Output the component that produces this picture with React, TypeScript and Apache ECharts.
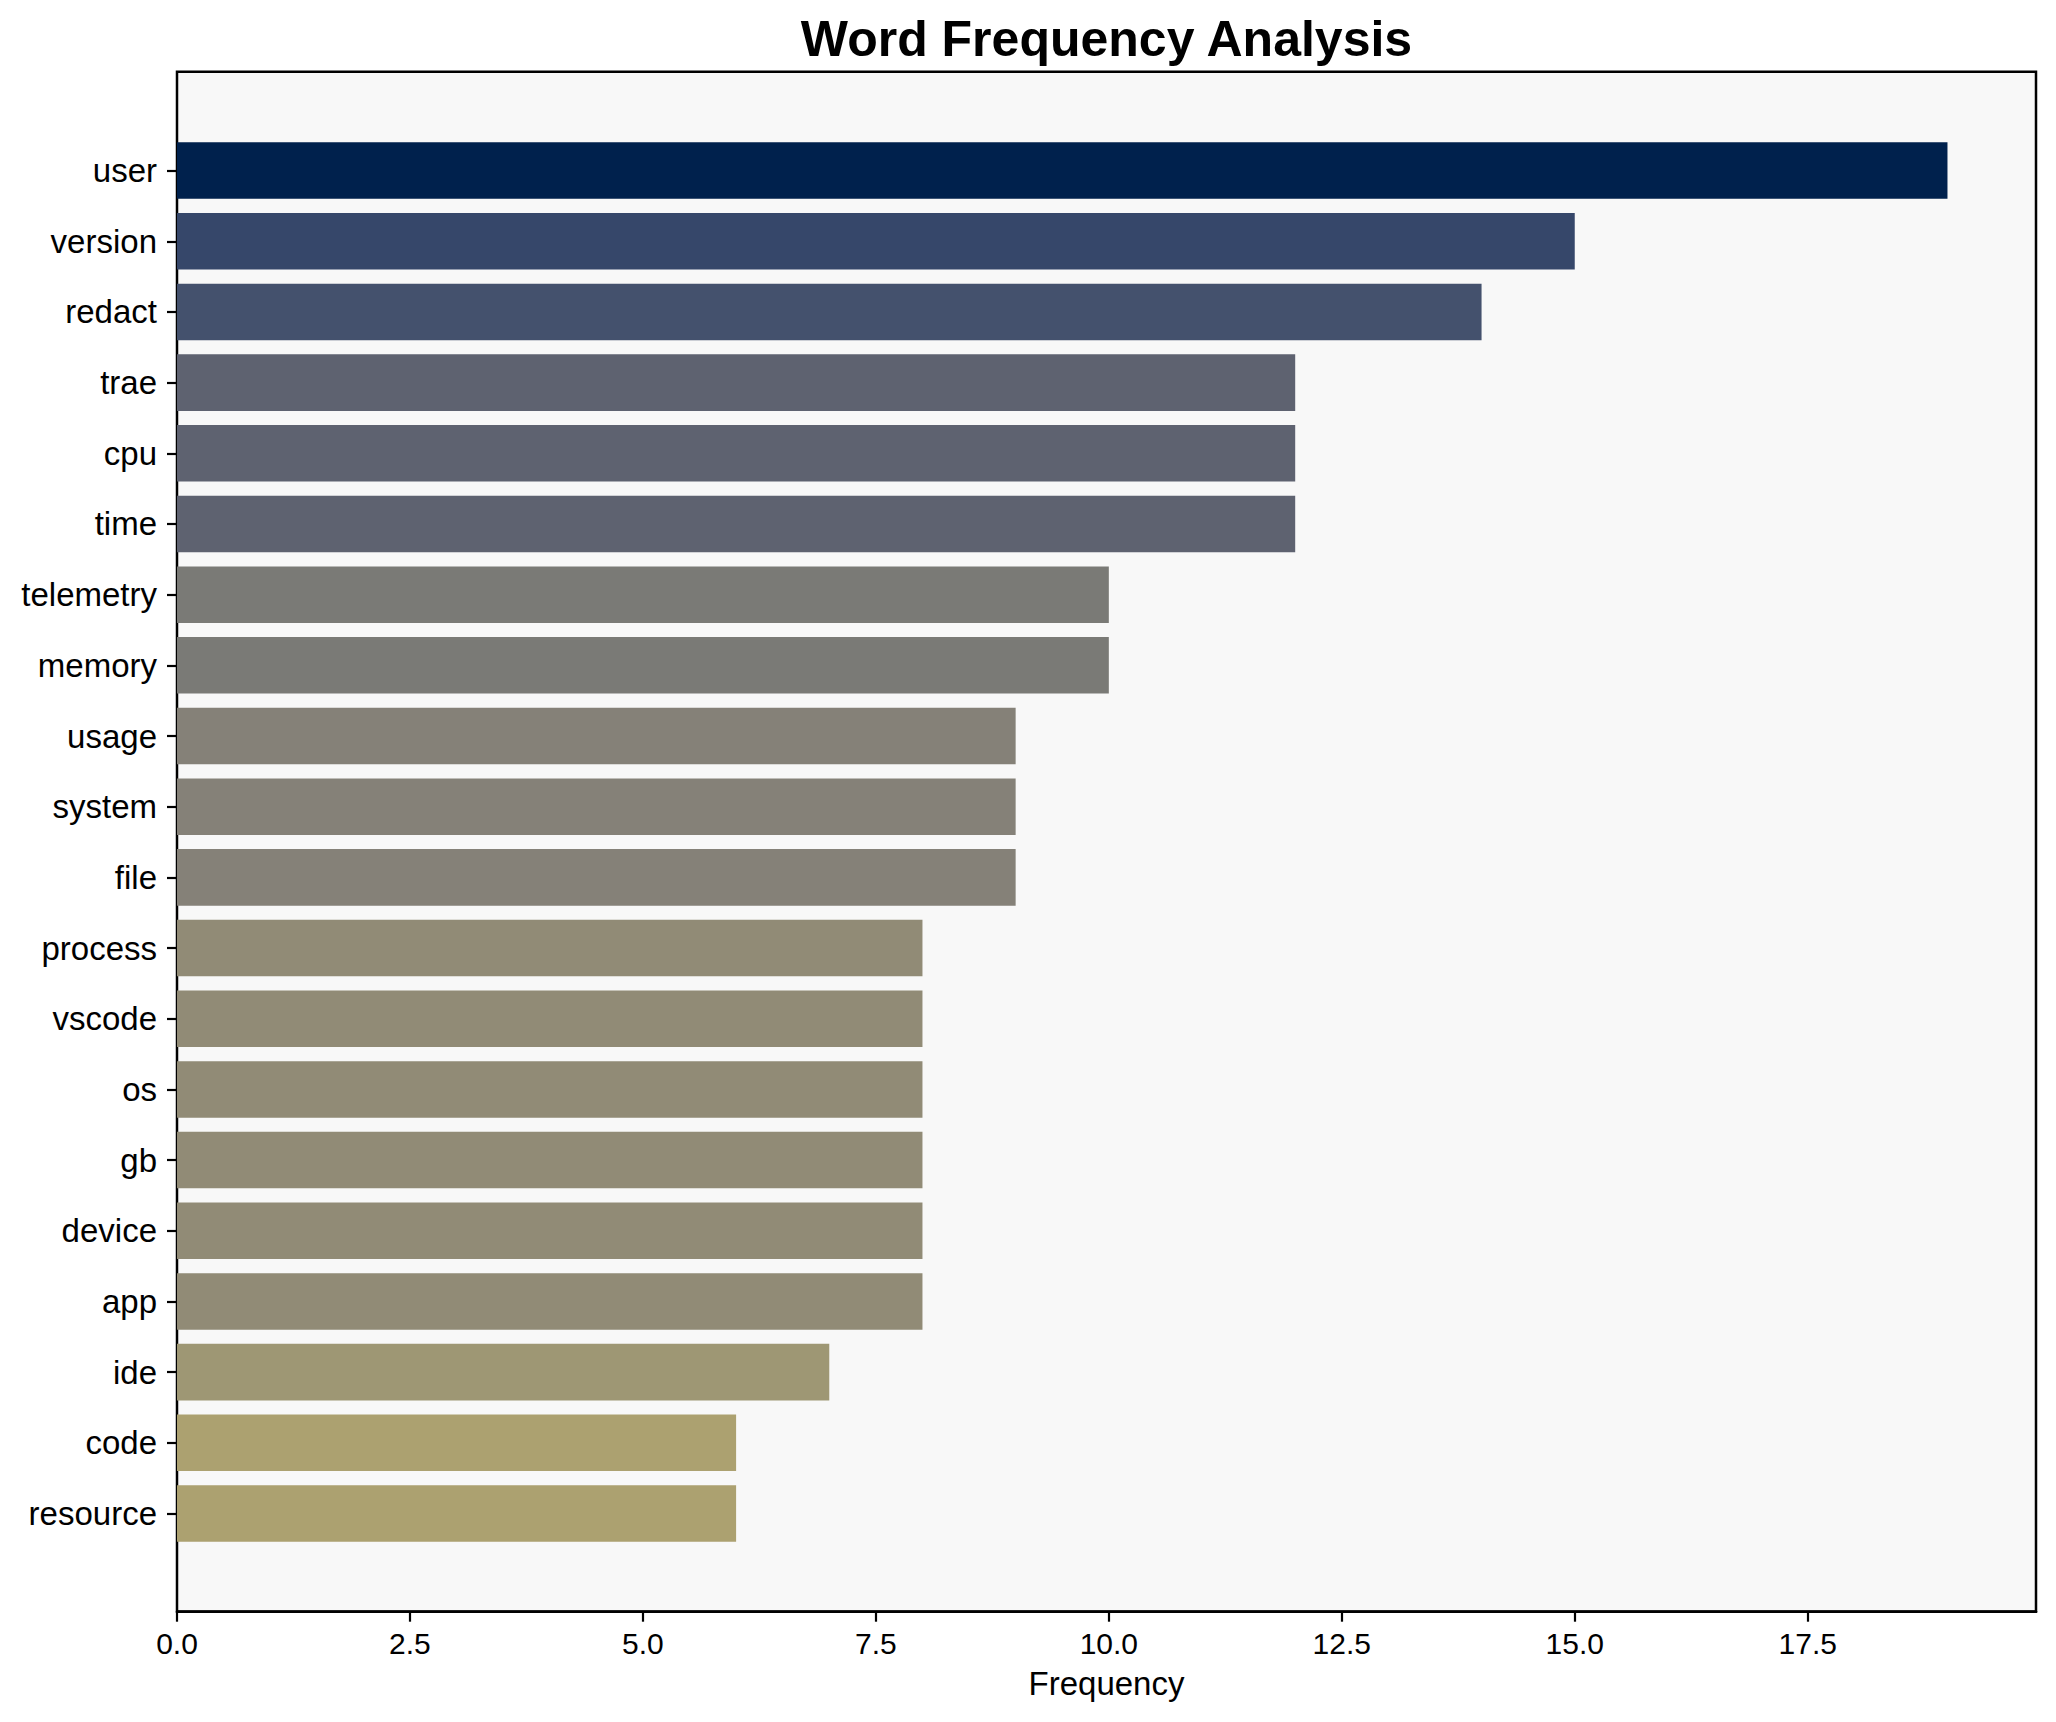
import React, { useEffect, useRef } from "react";
import * as echarts from "echarts";

const words = [
  "user", "version", "redact", "trae", "cpu", "time", "telemetry", "memory",
  "usage", "system", "file", "process", "vscode", "os", "gb", "device", "app",
  "ide", "code", "resource",
];
const counts = [19, 15, 14, 12, 12, 12, 10, 10, 9, 9, 9, 8, 8, 8, 8, 8, 8, 7, 6, 6];
const barColors = [
  "#00214d", "#36476a", "#44516d", "#5e6270", "#5e6270", "#5e6270", "#7a7a76",
  "#7a7a76", "#858178", "#858178", "#858178", "#918b76", "#918b76", "#918b76",
  "#918b76", "#918b76", "#918b76", "#9e9774", "#aca170", "#aca170",
];
const xTicks = [0, 2.5, 5, 7.5, 10, 12.5, 15, 17.5];
const xMax = 19.95;

const FONT = "'Liberation Sans', Arial, Helvetica, sans-serif";

export default function App() {
  const ref = useRef<HTMLDivElement>(null);
  useEffect(() => {
    document.body.style.margin = "0";
    if (!ref.current) return;
    const chart = echarts.init(ref.current, null, { renderer: "svg" });
    const L = 177;
    const R = 2056 - 2036;
    const pitch = 70.68;
    const frameTop = 71.7;
    const frameH = 1540;
    const barTop = 142.3 - 0.1 * pitch;
    const barH = 20 * pitch;
    chart.setOption({
      animation: false,
      backgroundColor: "#ffffff",
      graphic: [
        {
          type: "text",
          x: (L + 2036) / 2,
          y: 39,
          z: 10,
          style: {
            text: "Word Frequency Analysis",
            font: `bold 50px ${FONT}`,
            fill: "#000",
            textAlign: "center",
            textVerticalAlign: "middle",
          },
        },
      ],
      grid: [
        {
          left: L,
          right: R,
          top: frameTop,
          height: frameH,
          show: true,
          backgroundColor: "#f8f8f8",
          borderColor: "#000",
          borderWidth: 2.5,
          containLabel: false,
        },
        {
          left: L,
          right: R,
          top: barTop,
          height: barH,
          show: false,
          containLabel: false,
        },
      ],
      xAxis: [
        {
          type: "value",
          gridIndex: 0,
          min: 0,
          max: xMax,
          splitLine: { show: false },
          axisLine: { show: true, lineStyle: { color: "#000", width: 2.5 } },
          axisTick: {
            show: true,
            length: 10,
            lineStyle: { color: "#000", width: 2.2 },
            customValues: xTicks,
          },
          axisLabel: {
            color: "#000",
            fontSize: 30,
            fontFamily: FONT,
            margin: 17,
            customValues: xTicks,
            formatter: (v: number) => v.toFixed(1),
          },
          name: "Frequency",
          nameLocation: "middle",
          nameGap: 55,
          nameTextStyle: { color: "#000", fontSize: 33, fontFamily: FONT },
        },
        {
          type: "value",
          gridIndex: 1,
          min: 0,
          max: xMax,
          show: false,
          splitLine: { show: false },
        },
      ],
      yAxis: [
        { type: "value", gridIndex: 0, min: 0, max: 1, show: false, splitLine: { show: false } },
        {
          type: "category",
          gridIndex: 1,
          data: words,
          inverse: true,
          axisLine: { show: false },
          axisTick: {
            show: true,
            alignWithLabel: true,
            length: 10,
            lineStyle: { color: "#000", width: 2.2 },
          },
          axisLabel: {
            color: "#000",
            fontSize: 33,
            fontFamily: FONT,
            margin: 20,
          },
          splitLine: { show: false },
        },
      ],
      series: [
        {
          type: "bar",
          xAxisIndex: 1,
          yAxisIndex: 1,
          barWidth: "80%",
          data: counts.map((v, i) => ({ value: v, itemStyle: { color: barColors[i] } })),
        },
      ],
    });
    return () => chart.dispose();
  }, []);
  return <div ref={ref} style={{ width: 2056, height: 1722 }} />;
}
